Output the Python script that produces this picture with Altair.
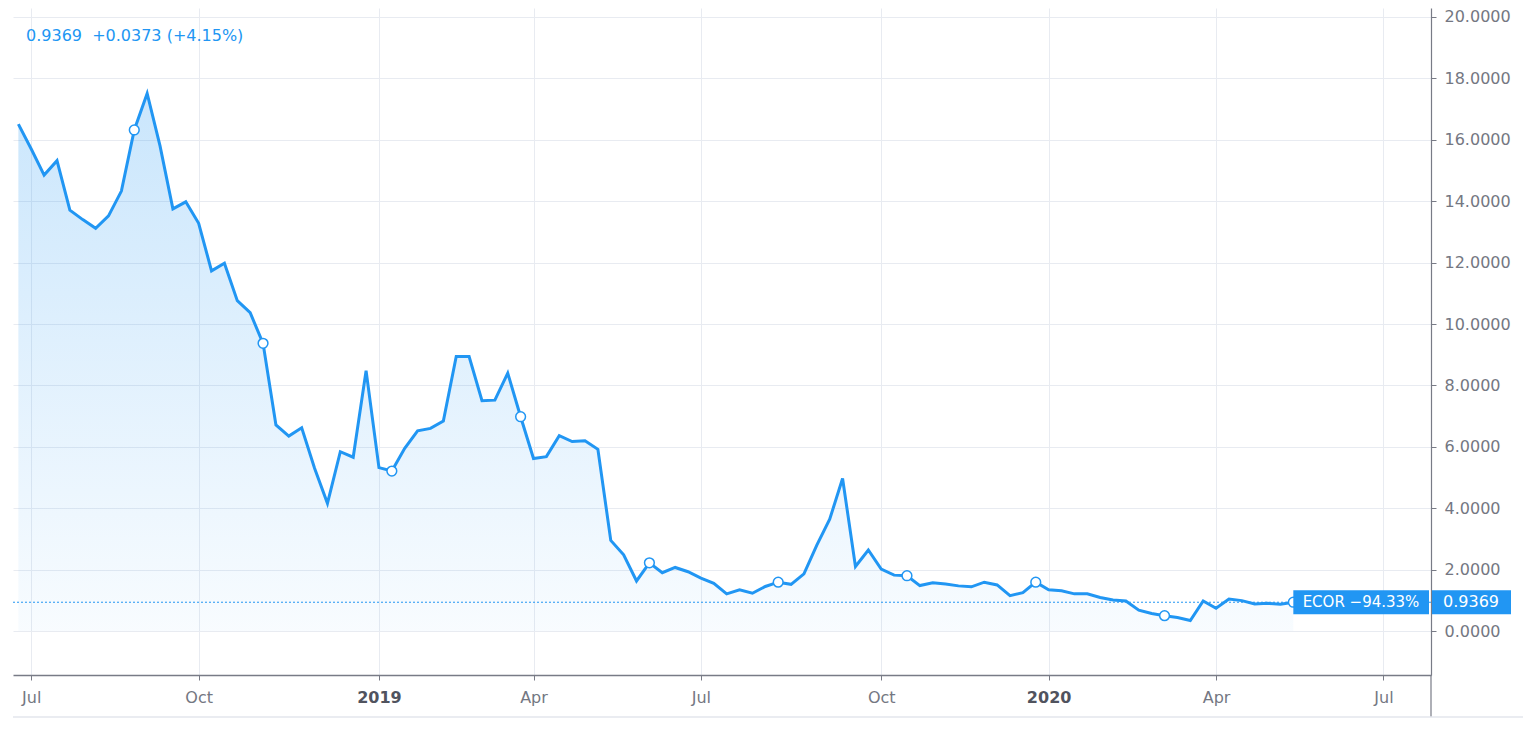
import altair as alt
import pandas as pd

# ---------------- data ----------------
first_week = "2018-06-25"
prices = [
    16.51, 15.70, 14.85, 15.32, 13.71, 13.40, 13.12, 13.52, 14.33, 16.32,
    17.51, 15.80, 13.75, 13.98, 13.28, 11.73, 11.98, 10.76, 10.37, 9.37,
    6.71, 6.35, 6.62, 5.30, 4.16, 5.84, 5.66, 8.48, 5.32, 5.21,
    5.95, 6.52, 6.60, 6.84, 8.94, 8.94, 7.50, 7.52, 8.40, 6.98,
    5.62, 5.68, 6.36, 6.17, 6.20, 5.92, 2.95, 2.48, 1.63, 2.22,
    1.90, 2.07, 1.93, 1.72, 1.55, 1.21, 1.34, 1.23, 1.45, 1.59,
    1.52, 1.86, 2.80, 3.64, 4.97, 2.10, 2.64, 2.02, 1.82, 1.80,
    1.48, 1.57, 1.53, 1.47, 1.44, 1.59, 1.50, 1.15, 1.25, 1.59,
    1.34, 1.31, 1.21, 1.21, 1.09, 1.01, 0.98, 0.68, 0.57, 0.50,
    0.44, 0.34, 0.98, 0.74, 1.04, 0.99, 0.88, 0.90, 0.87, 0.9369,
]
x_tick_dates = ["2018-07-02", "2018-10-01", "2019-01-07", "2019-04-01", "2019-07-01",
                "2019-10-07", "2020-01-06", "2020-04-06", "2020-07-06"]
y_ticks = [0, 2, 4, 6, 8, 10, 12, 14, 16, 18, 20]
header_text = ["0.9369\u00a0 +0.0373 (+4.15%)"]
symbol_text = ["ECOR \u221294.33%"]
last_text = ["0.9369"]
last_value = prices[-1]

# ---------------- style ----------------
BLUE = "#2196F3"
GRID = "#e8ebf1"
AXIS = "#787b86"
LABEL = "#747782"
FONT = "DejaVu Sans"
W, H = 1418, 667
Y_DOM = [-1.433, 20.293]
PX_PER_UNIT = H / (Y_DOM[1] - Y_DOM[0])
BOX_HALF = 12 / PX_PER_UNIT

dates = pd.date_range(first_week, periods=len(prices), freq="7D")
df = pd.DataFrame({"date": dates, "price": prices})
markers = df.iloc[9::10]


def dt(s):
    t = pd.Timestamp(s)
    return alt.DateTime(year=t.year, month=t.month, date=t.day, hours=t.hour)


x_scale = alt.Scale(domain=[alt.DateTime(year=2018, month=6, date=22, hours=2),
                            alt.DateTime(year=2020, month=7, date=31, hours=20)])
y_scale = alt.Scale(domain=Y_DOM, nice=False, zero=False)

x_axis = alt.Axis(
    values=[dt(s) for s in x_tick_dates],
    labelExpr="month(datum.value) == 0 ? timeFormat(datum.value, '%Y') : timeFormat(datum.value, '%b')",
    labelFontWeight={"condition": {"test": "month(datum.value) == 0", "value": "bold"}, "value": "normal"},
    labelColor={"condition": {"test": "month(datum.value) == 0", "value": "#50535e"}, "value": LABEL},
    title=None, grid=True, gridColor=GRID, gridWidth=1,
    domainColor=AXIS, domainWidth=1.6, tickColor=AXIS, tickSize=5, tickWidth=1,
    labelFont=FONT, labelFontSize=16, labelPadding=9, labelFlush=False, labelOverlap=False,
)
y_axis = alt.Axis(
    orient="right", values=y_ticks, format=".4f", title=None,
    grid=True, gridColor=GRID, gridWidth=1,
    domainColor=AXIS, domainWidth=1.2, tickColor=AXIS, tickSize=5,
    labelFont=FONT, labelFontSize=16, labelColor=LABEL, labelPadding=8,
)

base = alt.Chart(df)

area = base.mark_area(
    color=alt.Gradient(
        gradient="linear",
        stops=[alt.GradientStop(color="rgba(33,150,243,0.24)", offset=0),
               alt.GradientStop(color="rgba(33,150,243,0.03)", offset=1)],
        x1=1, x2=1, y1=0, y2=1,
    )
).encode(
    x=alt.X("date:T", scale=x_scale, axis=x_axis),
    y=alt.Y("price:Q", scale=y_scale, axis=y_axis),
    y2=alt.value(H),
)

line = base.mark_line(color=BLUE, strokeWidth=3, strokeJoin="miter").encode(
    x="date:T", y="price:Q"
)

pts = alt.Chart(markers).mark_point(
    shape="circle", filled=True, fill="white", stroke=BLUE, strokeWidth=1.5,
    size=95, opacity=1, fillOpacity=1
).encode(x="date:T", y="price:Q")

last_df = pd.DataFrame({"v": [last_value], "date": [dates[-1]],
                        "sym": symbol_text, "lab": last_text})

dotted = alt.Chart(last_df).mark_rule(color=BLUE, strokeWidth=1, strokeDash=[2, 2]).encode(
    y="v:Q", x=alt.value(0), x2=alt.value(W)
)

box_sym = alt.Chart(last_df).mark_rect(color=BLUE).encode(
    x="date:T", x2=alt.value(W - 2),
    y=alt.Y("top:Q"), y2="bot:Q",
).transform_calculate(top=f"datum.v + {BOX_HALF}", bot=f"datum.v - {BOX_HALF}")

box_val = alt.Chart(last_df).mark_rect(color=BLUE).encode(
    x=alt.value(W + 1), x2=alt.value(W + 80),
    y=alt.Y("top:Q"), y2="bot:Q",
).transform_calculate(top=f"datum.v + {BOX_HALF}", bot=f"datum.v - {BOX_HALF}")

txt_sym = alt.Chart(last_df).mark_text(
    color="white", font=FONT, fontSize=15, align="center", baseline="middle"
).encode(x=alt.value(1348), y="v:Q", text="sym:N")

txt_val = alt.Chart(last_df).mark_text(
    color="white", font=FONT, fontSize=16, align="center", baseline="middle"
).encode(x=alt.value(W + 40), y="v:Q", text="lab:N")

header = alt.Chart(pd.DataFrame({"t": header_text})).mark_text(
    color=BLUE, font=FONT, fontSize=16, align="left", baseline="middle"
).encode(x=alt.value(13), y=alt.value(28), text="t:N")

frame_df = pd.DataFrame({"k": [0]})
axis_ext = alt.Chart(frame_df).mark_rule(color=AXIS, strokeWidth=1.2).encode(
    x=alt.value(W), y=alt.value(H), y2=alt.value(H + 42)
)
bottom_line = alt.Chart(frame_df).mark_rule(color="#e3e6ec", strokeWidth=1.5).encode(
    y=alt.value(H + 42), x=alt.value(0), x2=alt.value(W + 92)
)

chart = alt.layer(
    area, dotted, line, pts, box_sym, box_val, txt_sym, txt_val, header, axis_ext, bottom_line
).properties(
    width=W, height=H, padding={"left": 4, "top": 0, "right": 0, "bottom": 0},
    background="white",
).configure_view(stroke=None)

chart.save("out.html", embed_options={"renderer": "svg", "actions": False})
